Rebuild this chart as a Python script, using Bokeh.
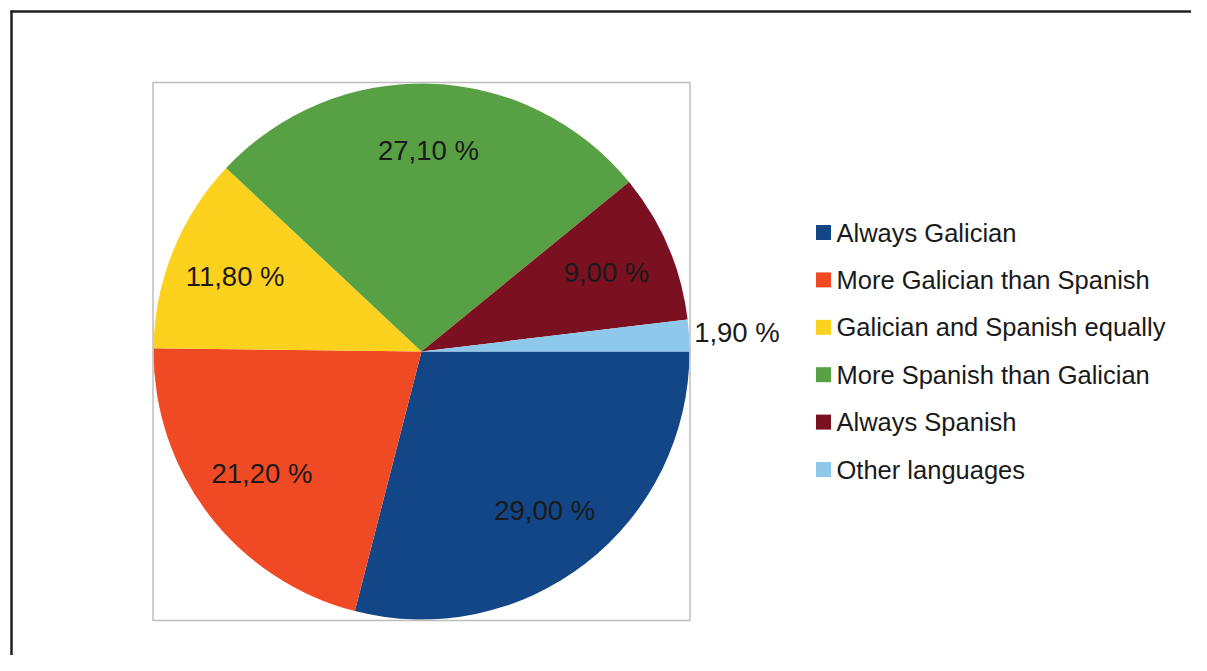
import math
from bokeh.plotting import figure
from bokeh.models import Range1d, ColumnDataSource
from bokeh.core.properties import value
from bokeh.embed import file_html
from bokeh.resources import INLINE

categories = ["Always Galician", "More Galician than Spanish", "Galician and Spanish equally",
              "More Spanish than Galician", "Always Spanish", "Other languages"]
shares = [29.0, 21.2, 11.8, 27.1, 9.0, 1.9]
labels = ["29,00 %", "21,20 %", "11,80 %", "27,10 %", "9,00 %", "1,90 %"]
colors = ["#134686", "#EF4A23", "#FDD21F", "#57A044", "#7B1120", "#8EC8EB"]

W, H = 1191, 655
FONT = "Liberation Sans"

def Y(sy):
    return 671 - sy

p = figure(width=W, height=H, output_backend="svg", toolbar_location=None,
           x_range=Range1d(0, W), y_range=Range1d(671 - H, 671),
           min_border=0, outline_line_color=None)
p.axis.visible = False
p.grid.visible = False
p.background_fill_color = "white"
p.border_fill_color = "white"

# outer frame (left and top visible)
p.line([11, 11], [Y(10), Y(700)], line_color="#231F20", line_width=2.5)
p.line([10, 1215], [Y(11), Y(11)], line_color="#231F20", line_width=2.5)

cx, cy, r = 421, Y(351), 268
total = sum(shares)
starts, ends, mids = [], [], []
cum = 0.0
for s in shares:
    a0 = -2 * math.pi * cum / total
    cum += s
    a1 = -2 * math.pi * cum / total
    starts.append(a0)
    ends.append(a1)
    mids.append((a0 + a1) / 2)

src = ColumnDataSource(dict(start=starts, end=ends, color=colors))
p.wedge(x=cx, y=cy, radius=r, start_angle="start", end_angle="end", direction="clock",
        fill_color="color", line_color=None, source=src)

# plot-area box
p.rect(x=cx, y=cy, width=537, height=538, fill_color=None, line_color="#BDBDBD", line_width=1.5)

# data labels
lx, ly = [], []
for i, m in enumerate(mids):
    if shares[i] < 5:
        rr = r + 48
    else:
        rr = 0.75 * r
    lx.append(cx + rr * math.cos(m))
    ly.append(cy + rr * math.sin(m))
p.text(x=lx, y=ly, text=labels, text_font=value(FONT), text_font_size="27.5px",
       text_color="#1a1a1a", text_align="center", text_baseline="middle")

# legend
leg_x = 823
leg_y = [Y(232 + i * 47.4) for i in range(len(categories))]
p.scatter(x=[leg_x] * len(categories), y=leg_y, marker="square", size=15,
          fill_color=colors, line_color=None)
p.text(x=[leg_x + 13] * len(categories), y=leg_y, text=categories, text_font=value(FONT),
       text_font_size="25.5px", text_color="#1a1a1a", text_align="left", text_baseline="middle")

open("out.html", "w").write(file_html(p, INLINE))
